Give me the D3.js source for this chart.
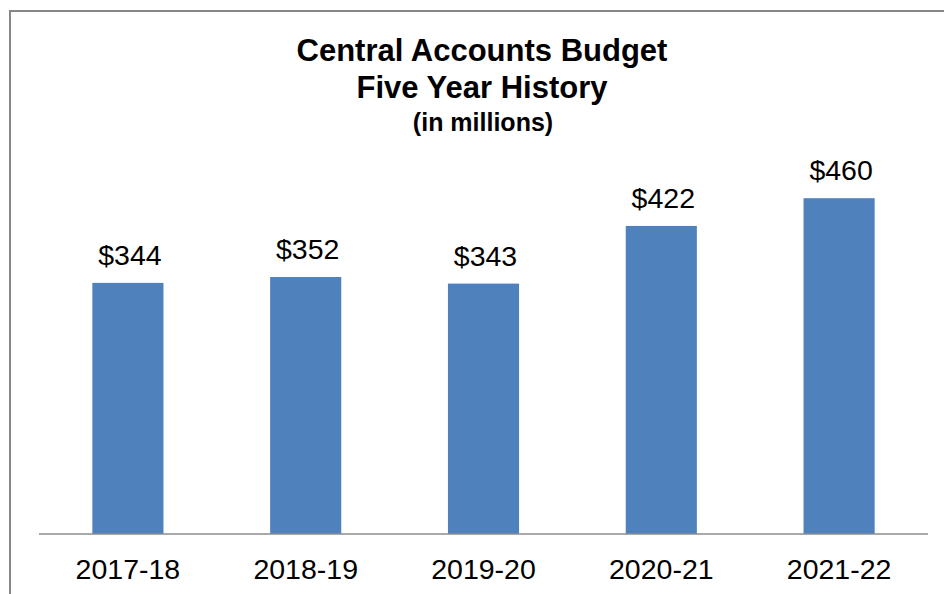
<!DOCTYPE html>
<html>
<head>
<meta charset="utf-8">
<script src="https://cdn.jsdelivr.net/npm/d3@7"></script>
<style>
  html, body { margin: 0; padding: 0; background: #fff; }
  svg { display: block; font-family: "Liberation Sans", Arial, sans-serif; }
</style>
</head>
<body>
<svg id="chart" width="944" height="594"></svg>
<script>
// Fiscal years and budget totals (millions of dollars)
const years = ["2017-18", "2018-19", "2019-20", "2020-21", "2021-22"];
const budget = [344, 352, 343, 422, 460];
const titleLines = ["Central Accounts Budget", "Five Year History"];
const subtitle = "(in millions)";

const svg = d3.select("#chart");
const plot = { left: 39, right: 928, top: 169, bottom: 534 };

// Outer frame (runs off the right and bottom edges)
svg.append("rect")
  .attr("x", 10).attr("y", 11)
  .attr("width", 1000).attr("height", 700)
  .attr("fill", "none")
  .attr("stroke", "#878787")
  .attr("stroke-width", 2);

const x = d3.scaleBand()
  .domain(years)
  .range([plot.left, plot.right])
  .paddingInner(0.6)
  .paddingOuter(0.3);

const y = d3.scaleLinear()
  .domain([0, 500])
  .range([plot.bottom, plot.top]);

const rows = years.map((yr, i) => ({ yr, v: budget[i] }));

// Bars
svg.append("g").selectAll("rect")
  .data(rows)
  .join("rect")
  .attr("x", d => x(d.yr))
  .attr("y", d => y(d.v))
  .attr("width", x.bandwidth())
  .attr("height", d => y(0) - y(d.v))
  .attr("fill", "#4F81BD");

// Value labels
svg.append("g").selectAll("text")
  .data(rows)
  .join("text")
  .attr("x", d => x(d.yr) + x.bandwidth() / 2 + 2)
  .attr("y", d => y(d.v) - 18)
  .attr("text-anchor", "middle")
  .attr("font-size", 28.5)
  .attr("fill", "#000")
  .text(d => "$" + d.v);

// Category axis
const xAxis = d3.axisBottom(x).tickSize(0).tickPadding(0);
const gx = svg.append("g")
  .attr("transform", `translate(0,${plot.bottom})`)
  .call(xAxis);
gx.select(".domain")
  .attr("d", `M${plot.left},0H${plot.right}`)
  .attr("stroke", "#8c8c8c")
  .attr("stroke-width", 1.5);
gx.selectAll(".tick text")
  .attr("y", 45)
  .attr("dy", 0)
  .attr("font-size", 28.5)
  .attr("font-family", "\"Liberation Sans\", Arial, sans-serif")
  .attr("fill", "#000");

// Title block
const cx = 482;
svg.append("text")
  .attr("x", cx).attr("y", 61)
  .attr("text-anchor", "middle")
  .attr("font-size", 31).attr("font-weight", "bold")
  .text(titleLines[0]);
svg.append("text")
  .attr("x", cx).attr("y", 98)
  .attr("text-anchor", "middle")
  .attr("font-size", 31).attr("font-weight", "bold")
  .text(titleLines[1]);
svg.append("text")
  .attr("x", cx + 1).attr("y", 131)
  .attr("text-anchor", "middle")
  .attr("font-size", 25).attr("font-weight", "bold")
  .text(subtitle);
</script>
</body>
</html>
